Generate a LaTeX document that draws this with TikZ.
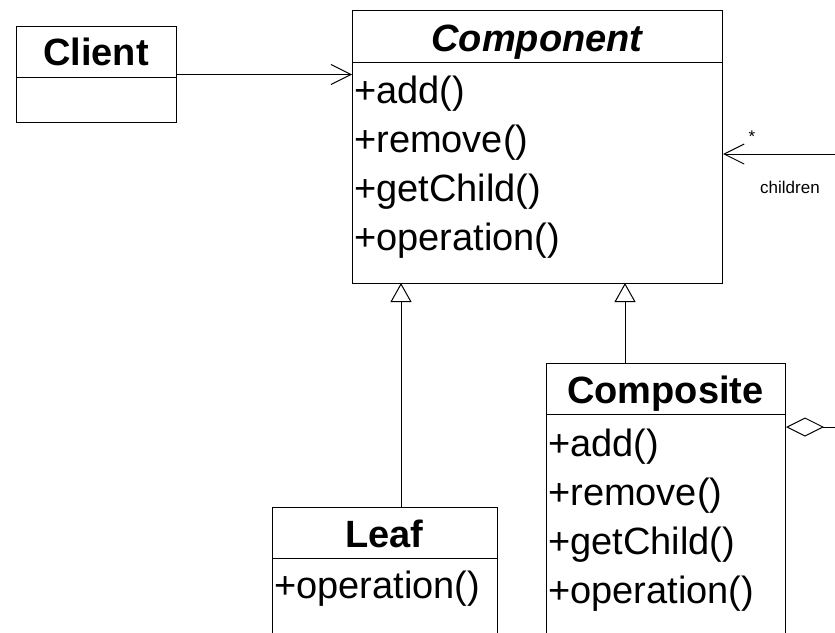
\documentclass[tikz,border=0pt]{standalone}
\usepackage{fontspec}
\setmainfont{Liberation Sans}
\usetikzlibrary{arrows.meta}

\begin{document}
\begin{tikzpicture}[
            x=1pt, y=-1pt,
            cls/.style={
              draw, line width=1pt,
              inner sep=0pt,
              anchor=north west
            },
            title/.style={
              font=\fontsize{38}{40}\selectfont\bfseries,
              inner sep=0pt, anchor=base
            },
            op/.style={
              font=\fontsize{38}{40}\selectfont,
              inner sep=0pt, anchor=base west
            },
            tag/.style={
              font=\fontsize{17}{19}\selectfont,
              inner sep=0pt, anchor=base
            },
            assoc/.style={
              line width=1pt,
              -{Straight Barb[length=20pt,width=20pt,line width=1pt]}
            },
            inherit/.style={
              line width=1pt,
              -{Triangle[open,length=19pt,width=21pt,line width=1pt]}
            },
            aggr/.style={
              line width=1pt,
              {Diamond[open,length=38pt,width=19pt,line width=1pt]}-
            }
        ]
    \clip (0,0) rectangle (835,632);

    \node[cls, minimum width=160pt, minimum height=96pt] (client) at (16,26) {};
    \node[cls, minimum width=370pt, minimum height=273pt] (comp) at (352,10) {};
    \node[cls, minimum width=225pt, minimum height=160pt] (leaf) at (272,507) {};
    \node[cls, minimum width=239pt, minimum height=300pt] (compo) at (546,363) {};

    \draw[line width=1pt] (client.west |- 0,77) -- (client.east |- 0,77);
    \draw[line width=1pt] (comp.west |- 0,62) -- (comp.east |- 0,62);
    \draw[line width=1pt] (leaf.west |- 0,558) -- (leaf.east |- 0,558);
    \draw[line width=1pt] (compo.west |- 0,414) -- (compo.east |- 0,414);

    \node[title] (clientname) at (96,65) {Client};
    \node[title, font=\fontsize{38}{40}\selectfont\bfseries\itshape] (compname) at (537,51) {Component};
    \node[title] (leafname) at (384.5,547) {Leaf};
    \node[title] (componame) at (665.5,403) {Composite};

    \foreach \i/\n in {0/add, 1/remove, 2/getChild, 3/operation} {
        \node[op] (compop\i) at (354,{103+49.2*\i}) {+\n()};
        \node[op] (compoop\i) at (548,{456+49*\i}) {+\n()};
    }
    \node[op] (leafop) at (274,598) {+operation()};

    \coordinate (rim) at (835,154);
    \coordinate (gl) at (401,283);
    \coordinate (gc) at (625,283);
    \coordinate (aggend) at (835,427);

    \draw[assoc] (client.east) -- (client.east -| comp.west);
    \draw[assoc] (rim) -- (rim -| comp.east);
    \node[tag] (mult) at (752,142) {*};
    \node[tag] (role) at (790,193) {children};

    \draw[inherit] (leaf.north -| gl) -- (gl);
    \draw[inherit] (compo.north -| gc) -- (gc);
    \draw[aggr] (aggend -| compo.east) -- (aggend);

    \end{tikzpicture}
\end{document}
